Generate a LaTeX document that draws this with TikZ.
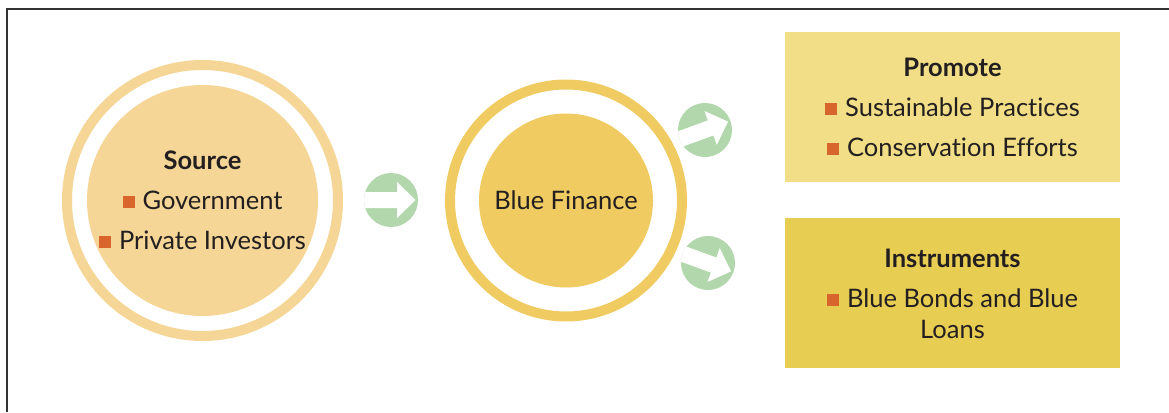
\documentclass[tikz,border=0pt]{standalone}
\usepackage{fontspec}
\setmainfont{Lato}[Ligatures={NoCommon}]
\usepackage{xcolor}
\usetikzlibrary{positioning, calc}

\definecolor{srcfill}{HTML}{F5D696}
\definecolor{finfill}{HTML}{F0CB62}
\definecolor{promfill}{HTML}{F2DE86}
\definecolor{instfill}{HTML}{E8CD53}
\definecolor{goGreen}{HTML}{B3D7AD}
\definecolor{bulletOrange}{HTML}{D8652B}
\definecolor{inkGray}{HTML}{231F20}

\newcommand{\sqbullet}{\textcolor{bulletOrange}{\rule[1.5pt]{12pt}{12pt}}\hspace{8pt}}

\begin{document}
\begin{tikzpicture}[
    x=1pt, y=-1pt,
    font=\fontsize{25.5}{31}\selectfont,
    text=inkGray,
    ring/.style={circle, draw=#1, line width=10pt, fill=white, inner sep=0pt},
    disc/.style={circle, fill=#1, inner sep=0pt, align=center},
    panel/.style={rectangle, fill=#1, minimum width=335pt, minimum height=150pt, align=center, inner sep=0pt},
    frame/.style={draw=black!80, line width=1.6pt},
    goarrow/.pic={
        \fill[goGreen] (0,0) circle (27);
        \begin{scope}
            \clip (0,0) circle (27);
            \fill[white] (-32,-8) -- (6,-8) -- (6,-18) -- (24.5,0) -- (6,18) -- (6,8) -- (-32,8) -- cycle;
        \end{scope}
    },
]
    \useasboundingbox (0,0) rectangle (1169,412);

    % Outer frame (top and left edge only)
    \draw[frame] (7,412) -- (7,9) -- (1169,9);

    % Source circle
    \node[ring=srcfill, minimum size=271pt] (srcring) at (202.5,200.5) {};
    \node[disc=srcfill, minimum size=231pt] (src) at (srcring.center)
        {\textbf{Source}\\[9pt]\sqbullet Government\\[9pt]\sqbullet Private Investors};

    % Blue Finance circle
    \node[ring=finfill, minimum size=232pt, right=102pt of srcring] (finring) {};
    \node[disc=finfill, minimum size=174pt] (fin) at (finring.center) {Blue Finance};

    % Right panels
    \node[panel=promfill] (prom) at (952.5,107)
        {\textbf{Promote}\\[9pt]\sqbullet Sustainable Practices\\[9pt]\sqbullet Conservation Efforts};
    \node[panel=instfill, below=36pt of prom] (inst)
        {\textbf{Instruments}\\[9pt]\sqbullet Blue Bonds and Blue\\Loans};

    % Flow arrows
    \pic at (391,200) {goarrow};
    \pic[rotate=20] at (705,130) {goarrow};
    \pic[rotate=-20] at (708,263) {goarrow};
\end{tikzpicture}
\end{document}
